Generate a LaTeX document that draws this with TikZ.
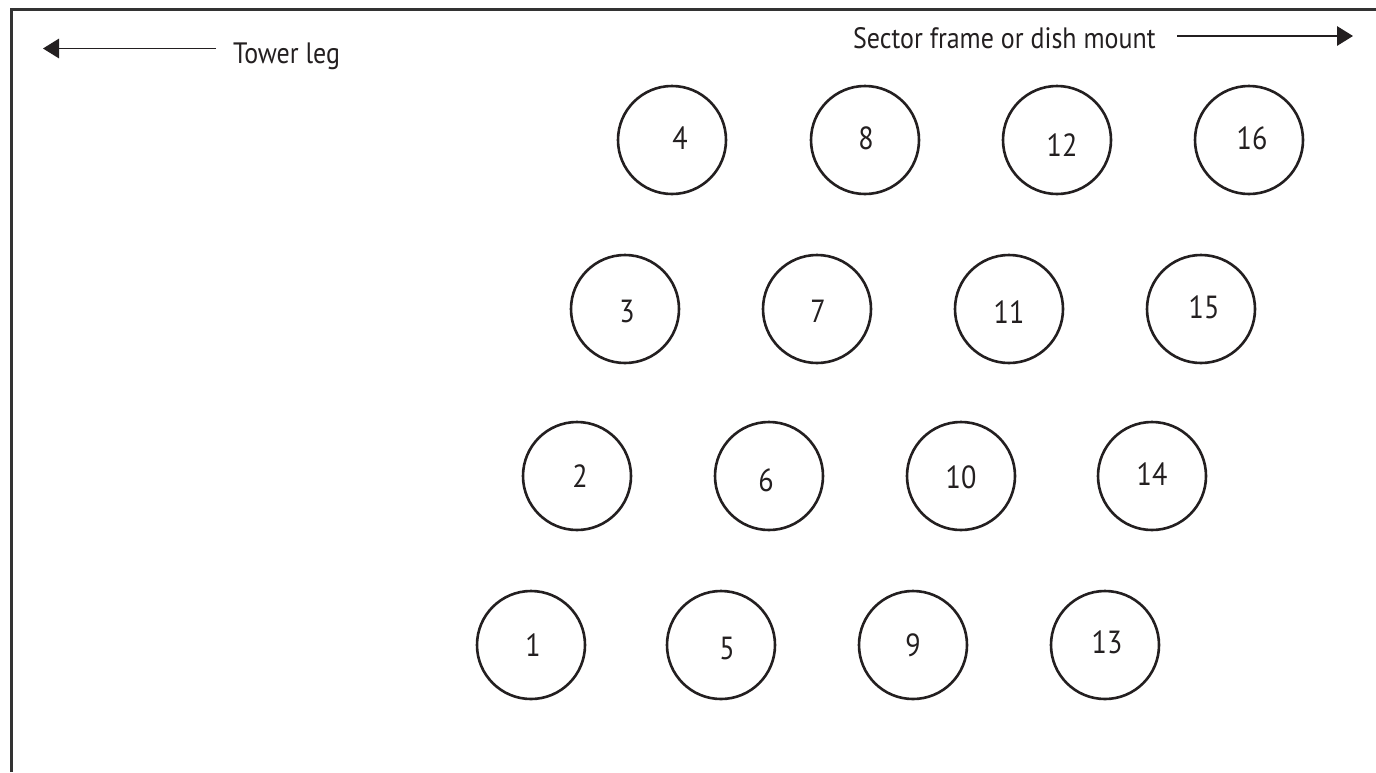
\documentclass[tikz,border=0pt]{standalone}
\usepackage{fontspec}
\setmainfont{PT Sans}[FakeStretch=0.88]
\usetikzlibrary{arrows.meta}
\definecolor{ink}{HTML}{231F20}
\definecolor{framec}{HTML}{333333}
\tikzset{
  ring/.style={circle,draw=ink,line width=2.6pt,minimum size=108pt,inner sep=0pt},
  num/.style={text=ink,font=\fontsize{32}{34}\selectfont,inner sep=0pt},
  lbl/.style={text=ink,font=\fontsize{29.5}{31}\selectfont,inner sep=0pt},
  pointer/.style={draw=ink,line width=1.4pt,-{Triangle[length=16pt,width=19.5pt]}},
}
\begin{document}
\begin{tikzpicture}[x=1pt,y=-1pt]
\useasboundingbox (0,0) rectangle (1376,772);
\draw[framec,line width=2.6pt] (11.3,772) -- (11.3,9.5) -- (1376,9.5);
% arrows and labels
\node[lbl,anchor=base west] (tl) at (233,63) {Tower leg};
\coordinate (tlend) at (43,48.5);
\draw[pointer] (216,48.5) -- (tlend);
\node[lbl,anchor=base west] (sf) at (853,48.5) {Sector frame or dish mount};
\coordinate (sfend) at (1353,36);
\draw[pointer] (1177,36) -- (sfend);
% circles
\foreach \n/\x/\y/\tx/\ty in {
  4/672/140/680/138, 8/865/140/866/138, 12/1057/140/1062/145, 16/1249/140/1252/138,
  3/625/309/627/311, 7/817/309/818/311, 11/1009/309/1009/312, 15/1201/309/1204/307,
  2/577/476/580/476, 6/769/476/766/480, 10/961/476/961/477, 14/1152/476/1152/474,
  1/531/645/533/645, 5/721/645/727/648, 9/913/645/913/645, 13/1105/645/1107/642}{
  \node[ring] (c\n) at (\x,\y) {};
  \node[num] (t\n) at (\tx,\ty) {\n};
}
\end{tikzpicture}
\end{document}
